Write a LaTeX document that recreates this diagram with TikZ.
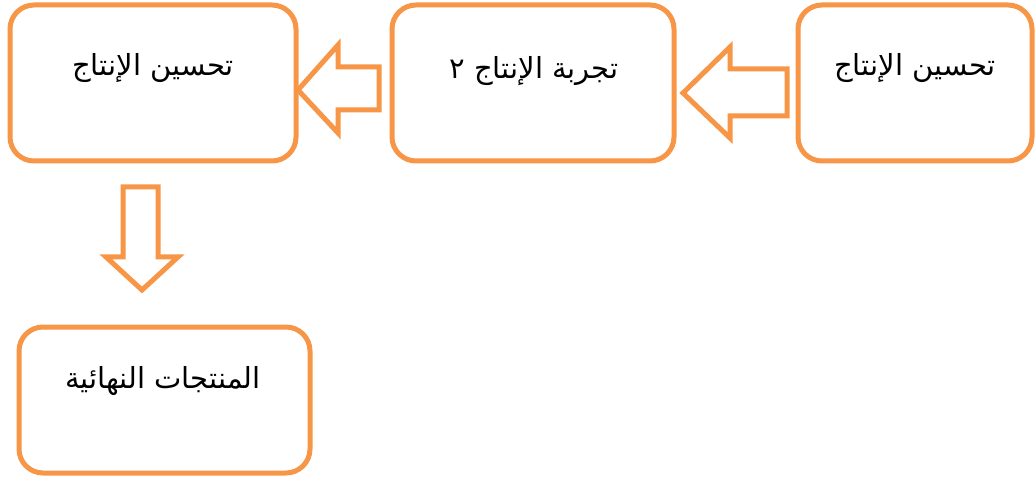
\documentclass[tikz,border=0pt]{standalone}
\usepackage{fontspec}
\newfontfamily\arabicfont[Script=Arabic]{DejaVu Sans}
\TeXXeTstate=1
\definecolor{boxorange}{HTML}{F79646}
\begin{document}
\begin{tikzpicture}[x=1pt,y=-1pt,
  box/.style={draw=boxorange, line width=5pt, rounded corners=24pt, fill=white, inner sep=0pt},
  blockarrow/.style={draw=boxorange, line width=5pt, fill=white, line join=miter},
  lbl/.style={font=\arabicfont\fontsize{29}{34}\selectfont, text=black, inner sep=0pt}]
\useasboundingbox (0,0) rectangle (1036,478);
% boxes
\node[box, minimum width=286pt, minimum height=156pt] (a) at (153,83) {};
\node[box, minimum width=282pt, minimum height=156pt] (b) at (533,83) {};
\node[box, minimum width=234pt, minimum height=156pt] (c) at (915,83) {};
\node[box, minimum width=291pt, minimum height=146pt] (d) at (164.5,400) {};
% labels
\node[lbl] (ta) at (153,68) {\beginR تحسين الإنتاج\endR};
\node[lbl] (tb) at (534,71) {\beginR تجربة الإنتاج ٢\endR};
\node[lbl] (tc) at (915,68) {\beginR تحسين الإنتاج\endR};
\node[lbl] (td) at (163,381) {\beginR المنتجات النهائية\endR};
% block arrows
\draw[blockarrow] (298,90) -- (338,45) -- (338,67) -- (379,67) -- (379,110) -- (338,110) -- (338,133) -- cycle;
\draw[blockarrow] (683,93) -- (730,47) -- (730,69) -- (787,69) -- (787,116) -- (730,116) -- (730,138) -- cycle;
\draw[blockarrow] (142,290) -- (106,257) -- (123,257) -- (123,187) -- (158,187) -- (158,257) -- (178,257) -- cycle;
\end{tikzpicture}
\end{document}
